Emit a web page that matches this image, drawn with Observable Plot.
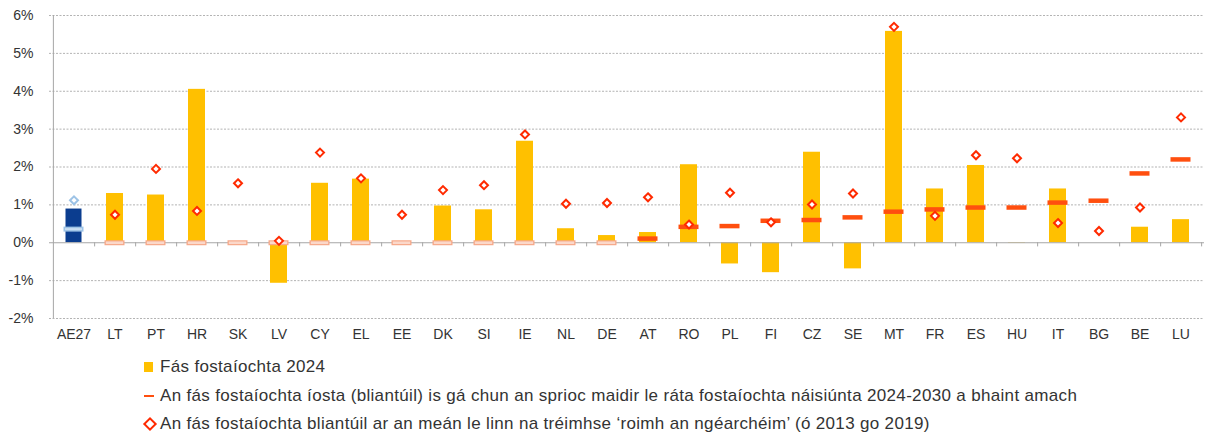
<!DOCTYPE html>
<html>
<head>
<meta charset="utf-8">
<script src="https://cdn.jsdelivr.net/npm/d3@7"></script>
<script src="https://cdn.jsdelivr.net/npm/@observablehq/plot@0.6"></script>
<style>
  html, body { margin: 0; padding: 0; background: #fff; }
  body { width: 1206px; height: 436px; overflow: hidden; font-family: "Liberation Sans", Arial, sans-serif; }
  #legend { position: relative; margin-left: 144px; margin-top: 3px; font-size: 17px; letter-spacing: 0.33px; color: #333; }
  .row { height: 28.5px; display: flex; align-items: center; }
  .sw { width: 16px; display: inline-flex; justify-content: flex-start; align-items: center; }
  .sq { width: 9px; height: 10px; background: #ffc000; }
  .dash { width: 10px; height: 2.5px; background: #ff4f0f; }
  .dia { width: 6px; height: 6px; border: 2px solid #ff2a00; transform: rotate(45deg); margin-left: 1px; }
</style>
</head>
<body>
<div id="chart"></div>
<div id="legend"></div>
<script>
const countries = ["AE27","LT","PT","HR","SK","LV","CY","EL","EE","DK","SI","IE","NL","DE","AT","RO","PL","FI","CZ","SE","MT","FR","ES","HU","IT","BG","BE","LU"];
const growth2024 = [0.89,1.30,1.26,4.05,0.03,-1.07,1.57,1.68,0.02,0.97,0.87,2.68,0.37,0.19,0.27,2.06,-0.56,-0.79,2.39,-0.69,5.58,1.42,2.04,-0.01,1.42,0,0.41,0.61];
const targetGrowth = [0.36,0,0,0,0,0,0,0,0,0,0,0,0,0,0.11,0.42,0.44,0.58,0.60,0.67,0.82,0.88,0.93,0.93,1.06,1.11,1.83,2.20];
const preCrisis = [1.12,0.74,1.95,0.84,1.57,0.05,2.38,1.70,0.74,1.39,1.52,2.86,1.03,1.05,1.20,0.48,1.32,0.54,1.01,1.30,5.70,0.71,2.31,2.23,0.52,0.31,0.93,3.31];
const yTicks = [-2,-1,0,1,2,3,4,5,6];
const legendLabels = [
  "Fás fostaíochta 2024",
  "An fás fostaíochta íosta (bliantúil) is gá chun an sprioc maidir le ráta fostaíochta náisiúnta 2024-2030 a bhaint amach",
  "An fás fostaíochta bliantúil ar an meán le linn na tréimhse ‘roimh an ngéarchéim’ (ó 2013 go 2019)"
];

const data = countries.map((c, i) => ({c, g: growth2024[i], t: targetGrowth[i], p: preCrisis[i]}));
const eu = data.filter(d => d.c === "AE27");
const ms = data.filter(d => d.c !== "AE27");
const msTarget = ms.filter(d => d.t !== 0);
const msZero = ms.filter(d => d.t === 0);

const W = 1206, H = 350, ML = 49, MR = 2;
const bw = (W - ML - MR) / countries.length;

const chart = Plot.plot({
  width: W, height: H,
  marginLeft: ML, marginRight: MR, marginTop: 15, marginBottom: 32,
  style: {fontFamily: "Liberation Sans, Arial, sans-serif", fontSize: "14px", color: "#333", background: "white", overflow: "visible"},
  x: {domain: countries, padding: 0, label: null, tickSize: 0, tickPadding: 11},
  y: {domain: [-2, 6], ticks: yTicks, tickFormat: d => d + "%", label: null, tickSize: 0, tickPadding: 16},
  marks: [
    Plot.ruleY(yTicks.filter(d => d !== 0), {stroke: "#b3b3b3", strokeDasharray: "2,1.5", strokeWidth: 1}),
    Plot.ruleX([countries[0]], {y1: -2, y2: 6, dx: -bw / 2, stroke: "#a6a6a6"}),
    Plot.barY(ms, {x: "c", y: "g", fill: "#ffc000", insetLeft: 12, insetRight: 12}),
    Plot.barY(eu, {x: "c", y: "g", fill: "#0b3d8f", insetLeft: 12.5, insetRight: 12.5}),
    Plot.ruleY([0], {stroke: "#a6a6a6"}),
    Plot.ruleX(countries, {x: d => d, y1: 0, y2: -0.11, dx: bw / 2, stroke: "#a6a6a6"}),
    Plot.tickY(msZero, {x: "c", y: "t", stroke: "#f6a889", strokeWidth: 5, insetLeft: 10.5, insetRight: 10.5}),
    Plot.tickY(msZero, {x: "c", y: "t", stroke: "#fff", strokeOpacity: 0.55, strokeWidth: 2.6, insetLeft: 11.8, insetRight: 11.8}),
    Plot.tickY(msTarget, {x: "c", y: "t", stroke: "#ff4f0f", strokeWidth: 4.5, insetLeft: 10.5, insetRight: 10.5}),
    Plot.tickY(eu, {x: "c", y: "t", stroke: "#9dc3e6", strokeWidth: 5, insetLeft: 10.5, insetRight: 10.5}),
    Plot.tickY(eu, {x: "c", y: "t", stroke: "#c9def2", strokeWidth: 2, insetLeft: 12, insetRight: 12}),
    Plot.dot(ms, {x: "c", y: "p", symbol: "diamond2", r: 3.6, stroke: "#ff2a00", strokeWidth: 2, fill: "white"}),
    Plot.dot(eu, {x: "c", y: "p", symbol: "diamond2", r: 3.6, stroke: "#9dc3e6", strokeWidth: 2, fill: "white"})
  ]
});
document.getElementById("chart").appendChild(chart);

const markers = ['<span class="sq"></span>', '<span class="dash"></span>', '<span class="dia"></span>'];
document.getElementById("legend").innerHTML = legendLabels.map((t, i) =>
  `<div class="row"><span class="sw">${markers[i]}</span><span>${t}</span></div>`).join("");
</script>
</body>
</html>
